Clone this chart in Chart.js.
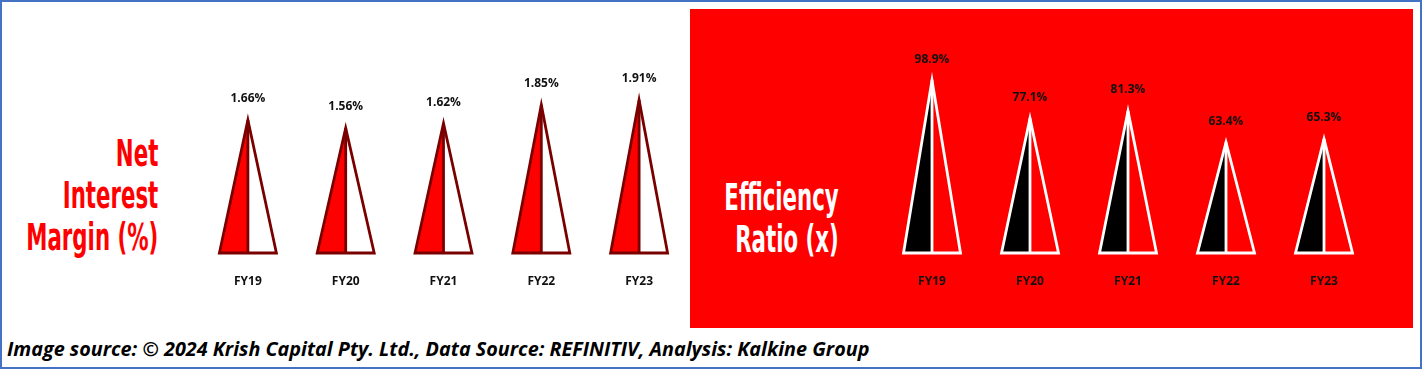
<!DOCTYPE html>
<html lang="en">
<head>
  <meta charset="UTF-8">
  <title>Net Interest Margin and Efficiency Ratio</title>
  <script src="https://cdn.jsdelivr.net/npm/chart.js"></script>
  <style>
    html, body { margin: 0; padding: 0; background: #fff; }
    #frame {
      position: relative; width: 1422px; height: 369px; overflow: hidden;
      box-sizing: border-box; border: 2px solid #4472c4; background: #fff;
    }
    #redPanel { position: absolute; left: 688px; top: 7px; width: 723px; height: 319px; background: #ff0000; }
    canvas { position: absolute; top: -2px; }
    #nimCanvas { left: 197px; }
    #effCanvas { left: 881px; }
    .title {
      position: absolute; text-align: right; line-height: 42px; white-space: nowrap;
      font-family: 'DejaVu Sans Condensed', 'Liberation Sans', sans-serif;
      font-weight: bold; font-size: 37px;
      transform: scaleX(0.64); transform-origin: right center;
    }
    #nimTitle { right: calc(1422px - 160px); top: 131px; color: #ff0000; }
    #effTitle { right: calc(1422px - 841px); top: 175px; color: #fff; }
    #caption {
      position: absolute; left: 5px; top: 333px; white-space: nowrap;
      font-family: 'Open Sans', sans-serif; font-style: italic; font-weight: bold; font-size: 19.8px; color: #000;
    }
  </style>
</head>
<body>
  <div id="frame">
    <div id="redPanel"></div>
    <div id="nimTitle" class="title">Net<br>Interest<br>Margin (%)</div>
    <div id="effTitle" class="title">Efficiency<br>Ratio (x)</div>
    <canvas id="nimCanvas" width="489" height="320"></canvas>
    <canvas id="effCanvas" width="490" height="320"></canvas>
    <div id="caption">Image source: © 2024 Krish Capital Pty. Ltd., Data Source: REFINITIV, Analysis: Kalkine Group</div>
  </div>

  <script>
    const years = ['FY19', 'FY20', 'FY21', 'FY22', 'FY23'];
    const netInterestMargin = [1.66, 1.56, 1.62, 1.85, 1.91];
    const efficiencyRatio = [98.9, 77.1, 81.3, 63.4, 65.3];

    // draws each bar as a split triangle, plus the value above the apex
    const pyramidPlugin = {
      id: 'pyramids',
      afterDatasetsDraw(chart, args, opts) {
        const ctx = chart.ctx;
        const meta = chart.getDatasetMeta(0);
        const values = chart.data.datasets[0].data;
        meta.data.forEach((bar, i) => {
          const { x, y, base, width } = bar.getProps(['x', 'y', 'base', 'width'], true);
          const half = width / 2;
          ctx.save();
          ctx.fillStyle = opts.leftFill;
          ctx.beginPath();
          ctx.moveTo(x, y); ctx.lineTo(x - half, base); ctx.lineTo(x, base); ctx.closePath();
          ctx.fill();
          ctx.fillStyle = opts.rightFill;
          ctx.beginPath();
          ctx.moveTo(x, y); ctx.lineTo(x + half, base); ctx.lineTo(x, base); ctx.closePath();
          ctx.fill();

          ctx.strokeStyle = opts.stroke;
          ctx.lineWidth = 2.8;
          ctx.lineJoin = 'miter';
          ctx.beginPath();
          ctx.moveTo(x, y); ctx.lineTo(x + half, base); ctx.lineTo(x - half, base); ctx.closePath();
          ctx.stroke();
          ctx.beginPath();
          ctx.moveTo(x, y); ctx.lineTo(x, base);
          ctx.stroke();

          ctx.fillStyle = '#111';
          ctx.font = 'bold 12px "Open Sans", sans-serif';
          ctx.textAlign = 'center';
          ctx.textBaseline = 'middle';
          ctx.fillText(values[i].toFixed(opts.decimals) + '%', x, y - 21);
          ctx.restore();
        });
      }
    };

    function makeChart(id, values, yMax, topPad, colors) {
      return new Chart(document.getElementById(id), {
        type: 'bar',
        data: {
          labels: years,
          datasets: [{
            data: values,
            backgroundColor: 'transparent',
            borderWidth: 0,
            barThickness: 57
          }]
        },
        options: {
          responsive: false,
          devicePixelRatio: 1,
          animation: false,
          layout: { padding: { top: topPad, bottom: 10.6, left: 0, right: 0 } },
          plugins: {
            legend: { display: false },
            tooltip: { enabled: false },
            pyramids: colors
          },
          scales: {
            x: {
              grid: { display: false, drawTicks: false },
              border: { display: false },
              ticks: { color: '#111', padding: 21, font: { family: 'Open Sans', weight: 'bold', size: 12 } }
            },
            y: { display: false, min: 0, max: yMax }
          }
        },
        plugins: [pyramidPlugin]
      });
    }

    makeChart('nimCanvas', netInterestMargin, 2.5, 52.75,
      { leftFill: '#ff0000', rightFill: '#ffffff', stroke: '#7a0000', decimals: 2 });
    makeChart('effCanvas', efficiencyRatio, 120, 43.4,
      { leftFill: '#000000', rightFill: '#ff0000', stroke: '#ffffff', decimals: 1 });
  </script>
</body>
</html>
